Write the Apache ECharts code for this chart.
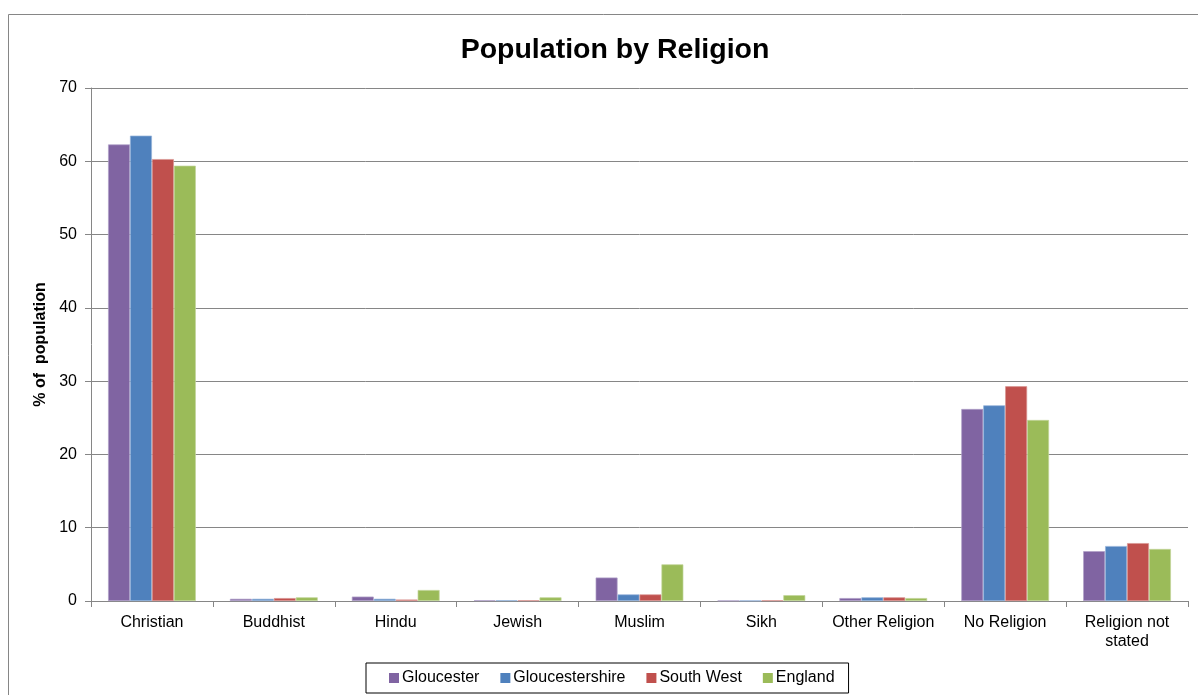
<!DOCTYPE html>
<html><head><meta charset="utf-8">
<script src="https://cdn.jsdelivr.net/npm/echarts@6/dist/echarts.min.js"></script>
<style>html,body{margin:0;padding:0;background:#fff}#c{width:1198px;height:695px}</style>
</head><body><div id="c"></div>
<script>
const categories = ['Christian','Buddhist','Hindu','Jewish','Muslim','Sikh','Other Religion','No Religion','Religion not\nstated'];
const seriesNames = ['Gloucester','Gloucestershire','South West','England'];
const gloucester = [62.3, 0.3, 0.6, 0.1, 3.2, 0.05, 0.4, 26.2, 6.8];
const gloucestershire = [63.5, 0.3, 0.3, 0.1, 0.9, 0.05, 0.5, 26.7, 7.5];
const southWest = [60.3, 0.4, 0.2, 0.1, 0.9, 0.1, 0.5, 29.3, 7.9];
const england = [59.4, 0.5, 1.5, 0.5, 5.0, 0.8, 0.4, 24.7, 7.1];
const yTicks = [0,10,20,30,40,50,60,70];
const colors = ['#8064A2','#4F81BD','#C0504D','#9BBB59'];
const borders = ['#B0A0C8','#95B3DA','#DA9694','#C3D69B'];
const values = [gloucester, gloucestershire, southWest, england];

const chart = echarts.init(document.getElementById('c'), null, {renderer:'canvas'});
const font = 'Liberation Sans, Arial, sans-serif';
chart.setOption({
  animation:false,
  textStyle:{fontFamily:font},
  graphic:[{type:'rect', shape:{x:8.5,y:14.5,width:1200,height:700}, style:{fill:'none',stroke:'#868686',lineWidth:1}, silent:true}],
  title:{text:'Population by Religion', left:610, textAlign:'center', top:31, textStyle:{fontFamily:font,fontSize:28.5,fontWeight:'bold',color:'#000'}},
  grid:{left:91, right:10, top:88, bottom:94},
  legend:{data:seriesNames, bottom:2, left:366, itemWidth:10, itemHeight:10, itemGap:21, icon:'rect',
    itemStyle:{borderWidth:0},
    borderColor:'#000', borderWidth:1, padding:[7,14,7,23],
    textStyle:{fontFamily:font,fontSize:16,color:'#000',padding:[0,0,0,-2]}},
  xAxis:{type:'category', data:categories,
    axisLine:{lineStyle:{color:'#868686',width:1}},
    axisTick:{show:true, length:6, lineStyle:{color:'#868686'}},
    axisLabel:{color:'#000', fontSize:16, fontFamily:font, margin:12, lineHeight:19, interval:0}},
  yAxis:{type:'value', min:0, max:70, interval:10,
    name:'% of  population', nameLocation:'middle', nameGap:37, nameRotate:90,
    nameTextStyle:{fontFamily:font,fontSize:16,fontWeight:'bold',color:'#000'},
    axisLine:{show:true,lineStyle:{color:'#868686'}},
    axisTick:{show:true,length:6,lineStyle:{color:'#868686'}},
    axisLabel:{color:'#000',fontSize:16,fontFamily:font,margin:14,
      formatter:v=> yTicks.includes(v)? String(v):''},
    splitLine:{lineStyle:{color:'#868686',width:1}}},
  series: seriesNames.map((n,i)=>({
    name:n, type:'bar', data:values[i], barGap:'0%', barCategoryGap:'28%',
    itemStyle:{color:colors[i], borderColor:borders[i], borderWidth:0.7}
  }))
});
</script></body></html>
